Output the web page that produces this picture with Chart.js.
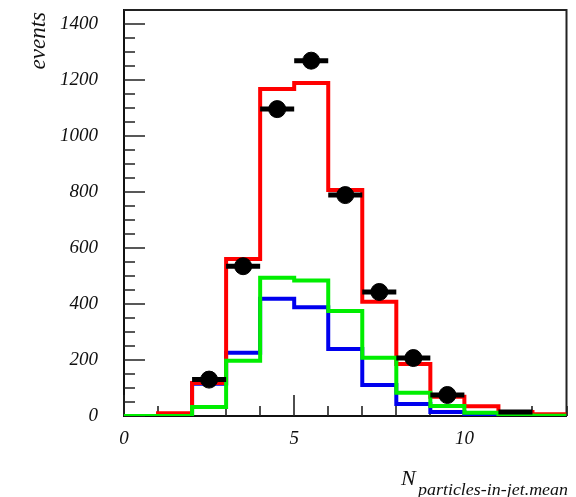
<!DOCTYPE html>
<html>
<head>
<meta charset="utf-8">
<script src="https://cdn.jsdelivr.net/npm/chart.js@4.4.1/dist/chart.umd.min.js"></script>
<style>
html,body{margin:0;padding:0;background:#fff;}
#wrap{width:576px;height:497px;position:relative;}
</style>
</head>
<body>
<div id="wrap"><canvas id="c" width="576" height="497"></canvas></div>
<script>
// ---- data ----
const binEdges = [0,1,2,3,4,5,6,7,8,9,10,11,12,13];
const redCounts   = [0, 10, 118, 561, 1168, 1189, 807, 408, 186, 69, 35, 14, 6];
const greenCounts = [0, 0, 32, 197, 494, 484, 375, 208, 83, 36, 12, 2, 1];
const blueCounts  = [0, 0, 115, 226, 419, 388, 239, 111, 43, 14, 3, 1, 0];
const dataCenters = [2.5, 3.5, 4.5, 5.5, 6.5, 7.5, 8.5, 9.5, 10.5, 11.5];
const dataValues  = [130, 535, 1096, 1269, 789, 443, 207, 75, null, 14];
const binHalfWidth = 0.5;
const xMajorLabels = [0, 5, 10];
const yMajorLabels = [0, 200, 400, 600, 800, 1000, 1200, 1400];
const yTitle = 'events';
const xTitleMain = 'N';
const xTitleSub = 'particles-in-jet.mean';

function histPoints(counts){
  const pts = counts.map((v,i)=>({x: binEdges[i], y: v}));
  pts.push({x: binEdges[binEdges.length-1], y: counts[counts.length-1]});
  return pts;
}
const dataPoints = dataCenters.map((x,i)=>({x, y: dataValues[i]}));

const SERIF = '"Liberation Serif", "DejaVu Serif", serif';

const decor = {
  id: 'decor',
  beforeDatasetsDraw(chart){
    const ctx = chart.ctx, a = chart.chartArea;
    const xs = chart.scales.x, ys = chart.scales.y;
    ctx.save();
    ctx.strokeStyle = '#222';
    ctx.lineWidth = 2;
    ctx.beginPath();
    ctx.moveTo(a.left, a.top); ctx.lineTo(a.right, a.top); ctx.lineTo(a.right, a.bottom);
    ctx.stroke();
    ctx.lineWidth = 1.6;
    ctx.beginPath();
    xs.ticks.forEach(t=>{
      const px = Math.round(xs.getPixelForValue(t.value));
      const len = xMajorLabels.includes(t.value) ? 21 : 10;
      ctx.moveTo(px, a.bottom); ctx.lineTo(px, a.bottom - len);
    });
    ys.ticks.forEach(t=>{
      const py = Math.round(ys.getPixelForValue(t.value));
      const len = yMajorLabels.includes(t.value) ? 21 : 11;
      ctx.moveTo(a.left, py); ctx.lineTo(a.left + len, py);
    });
    ctx.stroke();
    ctx.restore();
  },
  afterDatasetsDraw(chart){
    const ctx = chart.ctx;
    const xs = chart.scales.x, ys = chart.scales.y;
    ctx.save();
    ctx.strokeStyle = '#000';
    ctx.lineWidth = 5;
    ctx.beginPath();
    dataPoints.forEach(p=>{
      if (p.y === null) return;
      const py = ys.getPixelForValue(p.y);
      ctx.moveTo(xs.getPixelForValue(p.x - binHalfWidth), py);
      ctx.lineTo(xs.getPixelForValue(p.x + binHalfWidth), py);
    });
    ctx.stroke();
    ctx.restore();
  },
  afterDraw(chart){
    const ctx = chart.ctx;
    ctx.save();
    ctx.fillStyle = '#111';
    ctx.translate(39, 12);
    ctx.rotate(-Math.PI/2);
    ctx.font = 'italic 23px ' + SERIF;
    ctx.textAlign = 'right';
    ctx.textBaseline = 'middle';
    ctx.fillText(yTitle, 0, 0);
    ctx.restore();
    ctx.save();
    ctx.fillStyle = '#111';
    ctx.textBaseline = 'alphabetic';
    ctx.textAlign = 'left';
    ctx.font = 'italic 22px ' + SERIF;
    ctx.fillText(xTitleMain, 401, 485);
    ctx.font = 'italic 16px ' + SERIF;
    const w = ctx.measureText(xTitleSub).width;
    ctx.save();
    ctx.translate(418, 495);
    ctx.scale(150 / w, 1);
    ctx.fillText(xTitleSub, 0, 0);
    ctx.restore();
    ctx.restore();
  }
};

const histStyle = {type:'line', showLine:true, stepped:true, pointRadius:0, borderWidth:4, fill:false, borderJoinStyle:'miter', borderCapStyle:'butt'};

new Chart(document.getElementById('c'), {
  type: 'scatter',
  data: {
    datasets: [
      {label:'data', data: dataPoints, order:0, backgroundColor:'#000', borderColor:'#000',
       pointRadius: c => (c.raw && c.raw.y !== null && c.raw.y < 20) ? 0 : 8.5, pointHoverRadius:8, showLine:false},
      Object.assign({label:'green', data: histPoints(greenCounts), borderColor:'#00ee00', order:1}, histStyle),
      Object.assign({label:'red', data: histPoints(redCounts), borderColor:'#ff0000', order:2}, histStyle),
      Object.assign({label:'blue', data: histPoints(blueCounts), borderColor:'#0000ee', order:3}, histStyle)
    ]
  },
  options: {
    responsive:false,
    animation:false,
    devicePixelRatio:1,
    layout:{padding:{left:0, right:9, top:10, bottom:0}},
    plugins:{legend:{display:false}, tooltip:{enabled:false}},
    scales:{
      x:{
        type:'linear', min:0, max:13,
        grid:{display:false, drawTicks:false},
        border:{display:true, color:'#111', width:2},
        ticks:{stepSize:1, autoSkip:false, maxRotation:0, padding:12, color:'#111',
          font:{family:SERIF, style:'italic', size:19},
          callback: v => xMajorLabels.includes(v) ? String(v) : ''},
        afterFit(s){ s.height = 81; s.paddingLeft = 0; s.paddingRight = 0; }
      },
      y:{
        type:'linear', min:0, max:1450,
        grid:{display:false, drawTicks:false},
        border:{display:true, color:'#111', width:2},
        ticks:{stepSize:50, autoSkip:false, padding:26, color:'#111',
          font:{family:SERIF, style:'italic', size:19},
          callback: v => yMajorLabels.includes(v) ? String(v) : ''},
        afterFit(s){ s.width = 124; s.paddingTop = 0; s.paddingBottom = 0; }
      }
    }
  },
  plugins:[decor]
});
</script>
</body>
</html>
